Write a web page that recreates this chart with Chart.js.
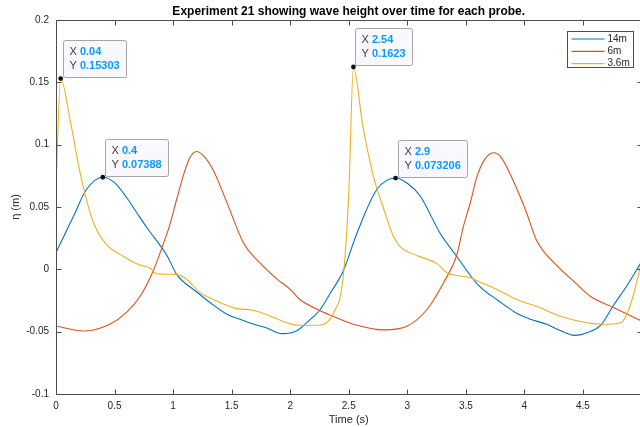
<!DOCTYPE html>
<html>
<head>
<meta charset="utf-8">
<title>Experiment 21</title>
<script src="https://cdn.jsdelivr.net/npm/chart.js@4/dist/chart.umd.min.js"></script>
<style>
  html, body { margin: 0; padding: 0; background: #fff; overflow: hidden; }
  #wrap { width: 660px; height: 427px; }
</style>
</head>
<body>
<div id="wrap"><canvas id="probe-chart" width="660" height="427"></canvas></div>
<script>
// probe readings, time in s and surface elevation in m
const probeNames = ["14m", "6m", "3.6m"];

const t14 = [0, 0.15, 0.26, 0.4, 0.5, 0.6, 0.7, 0.78, 0.95, 1.03, 1.2, 1.32, 1.46, 1.6, 1.69, 1.8, 1.93, 2.06, 2.15, 2.25, 2.35, 2.45, 2.57, 2.74, 2.9, 3.0, 3.11, 3.28, 3.42, 3.6, 3.79, 3.93, 4.05, 4.19, 4.28, 4.43, 4.53, 4.65, 4.76, 4.87, 5.0];
const eta14 = [0.0134, 0.0427, 0.064, 0.07388, 0.0695, 0.058, 0.044, 0.033, 0.0107, -0.004, -0.018, -0.027, -0.036, -0.041, -0.044, -0.047, -0.0516, -0.049, -0.042, -0.033, -0.018, -0.002, 0.029, 0.064, 0.073206, 0.069, 0.0588, 0.029, 0.0107, -0.012, -0.026, -0.035, -0.04, -0.044, -0.048, -0.053, -0.051, -0.045, -0.029, -0.014, 0.006];

const t6 = [0, 0.23, 0.46, 0.6, 0.72, 0.83, 0.92, 0.97, 1.03, 1.09, 1.14, 1.2, 1.26, 1.34, 1.46, 1.6, 1.74, 1.89, 2.0, 2.08, 2.23, 2.4, 2.54, 2.8, 3.0, 3.17, 3.31, 3.42, 3.48, 3.54, 3.59, 3.66, 3.735, 3.8, 3.9, 4.02, 4.1, 4.28, 4.45, 4.56, 4.76, 5.0];
const eta6 = [-0.0455, -0.0495, -0.044, -0.0348, -0.0214, -0.0013, 0.0214, 0.035, 0.056, 0.076, 0.089, 0.0945, 0.091, 0.08, 0.0535, 0.0214, 0.0053, -0.008, -0.016, -0.024, -0.032, -0.039, -0.044, -0.0486, -0.0455, -0.032, -0.0107, 0.0107, 0.0347, 0.054, 0.073, 0.088, 0.0935, 0.09, 0.072, 0.045, 0.024, 0.0027, -0.012, -0.0214, -0.0307, -0.0414];

const t36 = [0, 0.04, 0.12, 0.2, 0.26, 0.32, 0.43, 0.57, 0.72, 0.8, 0.86, 1.0, 1.1, 1.23, 1.34, 1.51, 1.71, 1.86, 1.97, 2.06, 2.25, 2.37, 2.45, 2.5, 2.54, 2.62, 2.71, 2.8, 2.88, 2.94, 3.02, 3.17, 3.25, 3.34, 3.54, 3.6, 3.76, 3.93, 4.13, 4.3, 4.53, 4.67, 4.82, 4.87, 4.93, 5.0];
const eta36 = [0.0668, 0.15303, 0.12, 0.08, 0.056, 0.0374, 0.02, 0.0107, 0.0032, 0.0013, -0.0035, -0.004, -0.0067, -0.0187, -0.024, -0.0307, -0.0334, -0.0387, -0.0428, -0.0449, -0.0449, -0.0348, -0.008, 0.06, 0.1623, 0.115, 0.075, 0.048, 0.0267, 0.018, 0.0134, 0.008, 0.0048, -0.0027, -0.0067, -0.0093, -0.016, -0.024, -0.0307, -0.0374, -0.0428, -0.044, -0.043, -0.037, -0.021, 0.006];

// data tips: which probe and which time
const tipProbe = [2, 0, 2, 0];
const tipTime = [0.04, 0.4, 2.54, 2.9];

const xTicks = [0, 0.5, 1, 1.5, 2, 2.5, 3, 3.5, 4, 4.5];
const xTickLabels = ["0", "0.5", "1", "1.5", "2", "2.5", "3", "3.5", "4", "4.5"];
const yTicks = [-0.1, -0.05, 0, 0.05, 0.1, 0.15, 0.2];
const yTickLabels = ["-0.1", "-0.05", "0", "0.05", "0.1", "0.15", "0.2"];

const LINE_COLOURS = ["#0072BD", "#D95319", "#EDB120"];
const FONT = "'Liberation Sans', Arial, Helvetica, sans-serif";
const AXIS_COLOUR = "#4d4d4d";
const TICK_LEN = 5;

function toPoints(ts, vals) {
  return ts.map((t, i) => ({ x: t, y: vals[i] }));
}

const seriesData = [toPoints(t14, eta14), toPoints(t6, eta6), toPoints(t36, eta36)];

// box with ticks on all four sides, ticks pointing inwards
const axisFrame = {
  id: "axisFrame",
  afterDatasetsDraw(chart) {
    const { ctx, chartArea: a, scales } = chart;
    const l = Math.round(a.left) + 0.5;
    const r = Math.round(a.right) + 0.5;
    const t = Math.round(a.top) + 0.5;
    const b = Math.round(a.bottom) + 0.5;
    ctx.save();
    ctx.strokeStyle = AXIS_COLOUR;
    ctx.lineWidth = 1;
    ctx.beginPath();
    ctx.rect(l, t, r - l, b - t);
    scales.x.ticks.forEach((tk) => {
      const px = Math.round(scales.x.getPixelForValue(tk.value)) + 0.5;
      ctx.moveTo(px, b);
      ctx.lineTo(px, b - TICK_LEN);
      ctx.moveTo(px, t);
      ctx.lineTo(px, t + TICK_LEN);
    });
    scales.y.ticks.forEach((tk) => {
      const py = Math.round(scales.y.getPixelForValue(tk.value)) + 0.5;
      ctx.moveTo(l, py);
      ctx.lineTo(l + TICK_LEN, py);
      ctx.moveTo(r, py);
      ctx.lineTo(r - TICK_LEN, py);
    });
    ctx.stroke();
    ctx.restore();
  },
};

const dataTips = {
  id: "dataTips",
  afterDatasetsDraw(chart) {
    const { ctx, scales } = chart;
    ctx.save();
    tipProbe.forEach((probe, i) => {
      const pt = chart.data.datasets[probe].data.find((p) => p.x === tipTime[i]);
      if (!pt) return;
      const px = scales.x.getPixelForValue(pt.x);
      const py = scales.y.getPixelForValue(pt.y);
      const rows = [["X ", String(pt.x)], ["Y ", String(pt.y)]];

      const plain = "11px " + FONT;
      const bold = "bold 11px " + FONT;
      let w = 0;
      rows.forEach(([k, v]) => {
        ctx.font = plain;
        const kw = ctx.measureText(k).width;
        ctx.font = bold;
        w = Math.max(w, kw + ctx.measureText(v).width);
      });
      const bw = Math.round(w + 13);
      const bh = 37;
      const bx = Math.round(px + 2) + 0.5;
      const by = Math.round(py - 1.5 - bh) + 0.5;

      ctx.fillStyle = "#f8f8fe";
      ctx.strokeStyle = "#a6a6a6";
      ctx.lineWidth = 1;
      ctx.beginPath();
      ctx.roundRect(bx, by, bw, bh, 2);
      ctx.fill();
      ctx.stroke();

      ctx.textBaseline = "middle";
      rows.forEach(([k, v], r) => {
        const ty = by + 11 + r * 14.3;
        ctx.font = plain;
        ctx.fillStyle = "#404040";
        ctx.fillText(k, bx + 6, ty);
        const kw = ctx.measureText(k).width;
        ctx.font = bold;
        ctx.fillStyle = "#0a99ff";
        ctx.fillText(v, bx + 6 + kw, ty);
      });

      ctx.fillStyle = "#111";
      ctx.beginPath();
      ctx.arc(px, py, 2.4, 0, Math.PI * 2);
      ctx.fill();
    });
    ctx.restore();
  },
};

// boxed legend in the upper right corner of the axes
const cornerLegend = {
  id: "cornerLegend",
  afterDraw(chart) {
    const { ctx, chartArea: a } = chart;
    const sets = chart.data.datasets;
    ctx.save();
    ctx.font = "10px " + FONT;
    const maxText = Math.max(...sets.map((d) => ctx.measureText(d.label).width));
    const lineLen = 33;
    const rowH = 12.3;
    const bw = Math.round(4 + lineLen + 3 + maxText + 4);
    const bh = 36;
    const bx = Math.round(a.right - 9 - bw) + 0.5;
    const by = Math.round(a.top + 11) + 0.5;
    ctx.fillStyle = "#fff";
    ctx.strokeStyle = AXIS_COLOUR;
    ctx.lineWidth = 1;
    ctx.fillRect(bx, by, bw, bh);
    ctx.strokeRect(bx, by, bw, bh);
    ctx.textBaseline = "middle";
    sets.forEach((d, i) => {
      const y = by + 7.5 + i * rowH;
      ctx.strokeStyle = d.borderColor;
      ctx.lineWidth = 1.2;
      ctx.beginPath();
      ctx.moveTo(bx + 4, y);
      ctx.lineTo(bx + 4 + lineLen, y);
      ctx.stroke();
      ctx.fillStyle = "#262626";
      ctx.fillText(d.label, bx + 4 + lineLen + 3, y);
    });
    ctx.restore();
  },
};

new Chart(document.getElementById("probe-chart"), {
  type: "line",
  data: {
    datasets: probeNames.map((name, i) => ({
      label: name,
      data: seriesData[i],
      borderColor: LINE_COLOURS[i],
      borderWidth: 1.1,
      pointRadius: 0,
      cubicInterpolationMode: "monotone",
      fill: false,
      order: 2 - i,
    })),
  },
  options: {
    responsive: false,
    animation: false,
    layout: { padding: { left: 0, right: 18.5, top: 0, bottom: 0 } },
    plugins: {
      legend: { display: false },
      tooltip: { enabled: false },
      title: {
        display: true,
        fullSize: false,
        text: "Experiment 21 showing wave height over time for each probe.",
        color: "#000",
        font: { family: FONT, size: 12, weight: "bold" },
        padding: { top: 4, bottom: 1.6 },
      },
    },
    scales: {
      x: {
        type: "linear",
        min: 0,
        max: 5,
        grid: { display: false, drawTicks: false },
        border: { display: false },
        afterBuildTicks: (s) => { s.ticks = xTicks.map((v) => ({ value: v })); },
        afterFit: (s) => { s.height = 33; },
        ticks: {
          color: "#262626",
          font: { family: FONT, size: 10 },
          padding: 6,
          maxRotation: 0,
          callback: (v) => xTickLabels[xTicks.indexOf(v)],
        },
        title: {
          display: true,
          text: "Time (s)",
          color: "#262626",
          font: { family: FONT, size: 11 },
          padding: { top: 0, bottom: 0 },
        },
      },
      y: {
        type: "linear",
        min: -0.1,
        max: 0.2,
        grid: { display: false, drawTicks: false },
        border: { display: false },
        afterBuildTicks: (s) => { s.ticks = yTicks.map((v) => ({ value: v })); },
        afterFit: (s) => { s.width = 56; },
        ticks: {
          color: "#262626",
          font: { family: FONT, size: 10 },
          padding: 7,
          callback: (v) => yTickLabels[yTicks.indexOf(v)],
        },
        title: {
          display: true,
          text: "η (m)",
          color: "#262626",
          font: { family: FONT, size: 11 },
          padding: { top: 9, bottom: 0 },
        },
      },
    },
  },
  plugins: [axisFrame, dataTips, cornerLegend],
});
</script>
</body>
</html>
